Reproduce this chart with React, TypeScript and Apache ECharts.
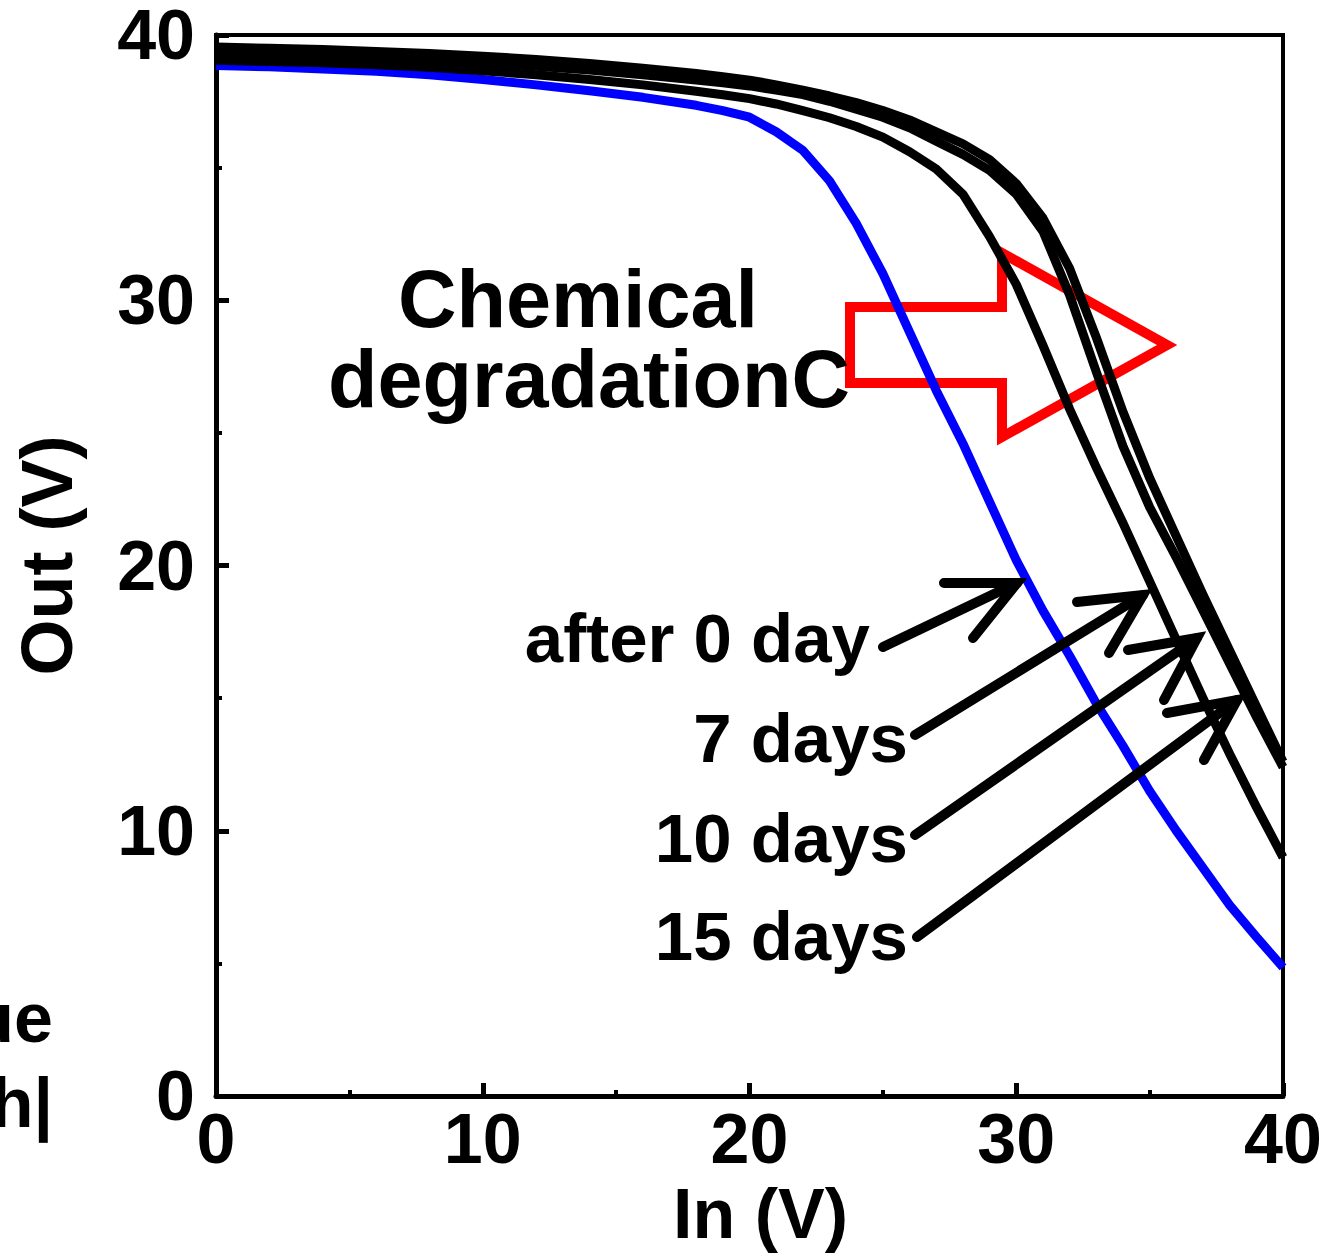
import React, { useEffect, useRef } from "react";
import * as echarts from "echarts";

// ---- data ----
const xIn = [0, 2, 4, 6, 8, 10, 12, 14, 16, 18, 19, 20, 21, 22, 23, 24, 25, 26, 27, 28, 29, 30, 31, 32, 33, 34, 35, 36, 37, 38, 39, 40];

const outBlue = [38.85, 38.8, 38.72, 38.63, 38.5, 38.32, 38.12, 37.9, 37.65, 37.35, 37.15, 36.9, 36.35, 35.65, 34.5, 32.9, 31.0, 28.8, 26.6, 24.6, 22.4, 20.2, 18.3, 16.6, 14.8, 13.2, 11.5, 10.0, 8.6, 7.2, 6.0, 4.85];

const outBlackA = [39.05, 39.0, 38.95, 38.88, 38.78, 38.65, 38.5, 38.32, 38.12, 37.88, 37.75, 37.6, 37.4, 37.15, 36.88, 36.55, 36.15, 35.6, 34.95, 34.0, 32.4, 30.6, 28.3, 25.9, 23.7, 21.6, 19.4, 17.2, 15.0, 12.9, 10.9, 9.0];

const outBlackC = [39.3, 39.25, 39.2, 39.13, 39.05, 38.95, 38.82, 38.68, 38.5, 38.3, 38.2, 38.08, 37.92, 37.75, 37.5, 37.2, 36.9, 36.5, 36.0, 35.5, 34.9, 34.0, 32.6, 30.2, 27.3, 24.5, 22.2, 20.3, 18.3, 16.3, 14.3, 12.4];

const outBlackD = [39.55, 39.5, 39.45, 39.38, 39.3, 39.2, 39.08, 38.93, 38.75, 38.55, 38.43, 38.3, 38.12, 37.92, 37.7, 37.45, 37.15, 36.8, 36.35, 35.9, 35.3, 34.4, 33.1, 31.2, 28.6, 25.8, 23.3, 21.1, 18.9, 16.8, 14.7, 12.6];

const xTicks = { min: 0, max: 40, interval: 10 };
const yTicks = { min: 0, max: 40, interval: 10 };

const labels = ["after 0 day", "7 days", "10 days", "15 days"];
const titleLines = ["Chemical", "degradationC"];
const clippedLeft = ["Value", "|Vth|"];

const FONT = "'Liberation Sans', Arial, Helvetica, sans-serif";

function pairs(xs: number[], ys: number[]) {
  return xs.map((x, i) => [x, ys[i]]);
}

export default function App() {
  const ref = useRef<HTMLDivElement>(null);

  useEffect(() => {
    if (!ref.current) return;
    const chart = echarts.init(ref.current, null, { renderer: "svg", width: 1330, height: 1254 });

    const lineSeries = (name: string, ys: number[], color: string) => ({
      name,
      type: "line",
      data: pairs(xIn, ys),
      showSymbol: false,
      symbol: "none",
      smooth: false,
      clip: false,
      lineStyle: { color, width: 9, join: "round" },
      z: 3,
    });

    const arrowStyle = { stroke: "#000", lineWidth: 10, lineCap: "round", lineJoin: "miter", fill: null };
    const arrows = [
      { tail: [883, 647], tip: [1017, 583], b1: [944, 583], b2: [973, 638] },
      { tail: [915, 735], tip: [1143, 595], b1: [1077, 602], b2: [1109, 653] },
      { tail: [915, 835], tip: [1197, 638], b1: [1128, 650], b2: [1164, 700] },
      { tail: [917, 937], tip: [1237, 700], b1: [1167, 713], b2: [1204, 760] },
    ];
    const arrowGraphics: any[] = [];
    arrows.forEach((a) => {
      arrowGraphics.push({ type: "polyline", z: 100, shape: { points: [a.tail, a.tip] }, style: { ...arrowStyle } });
      arrowGraphics.push({ type: "polyline", z: 100, shape: { points: [a.b1, a.tip, a.b2] }, style: { ...arrowStyle } });
    });

    const labelY = [638, 738, 838, 936];
    const labelRight = [870, 908, 908, 908];
    const labelGraphics = labels.map((t, i) => ({
      type: "text",
      z: 100,
      x: labelRight[i],
      y: labelY[i],
      style: { text: t, fontSize: 69, fontWeight: "bold", fontFamily: FONT, fill: "#000", align: "right", verticalAlign: "middle" },
    }));

    const titleGraphics = [
      { type: "text", z: 50, x: 578, y: 299, style: { text: titleLines[0], fontSize: 81, fontWeight: "bold", fontFamily: FONT, fill: "#000", align: "center", verticalAlign: "middle" } },
      { type: "text", z: 50, x: 589, y: 379, style: { text: titleLines[1], fontSize: 81, fontWeight: "bold", fontFamily: FONT, fill: "#000", align: "center", verticalAlign: "middle" } },
    ];

    const leftGraphics = [
      { type: "text", z: 50, x: 53, y: 1018, style: { text: clippedLeft[0], fontSize: 70, fontWeight: "bold", fontFamily: FONT, fill: "#000", align: "right", verticalAlign: "middle" } },
      { type: "text", z: 50, x: 53, y: 1103, style: { text: clippedLeft[1], fontSize: 70, fontWeight: "bold", fontFamily: FONT, fill: "#000", align: "right", verticalAlign: "middle" } },
    ];

    const redArrow = {
      type: "polygon",
      z: 1,
      shape: { points: [[850, 307], [1002, 307], [1002, 253], [1167, 345], [1002, 437], [1002, 383], [850, 383]] },
      style: { fill: "none", stroke: "#ff0000", lineWidth: 10, lineJoin: "miter" },
    };

    const axisCommon = {
      type: "value",
      axisLine: { show: true, onZero: false, lineStyle: { color: "#000", width: 5 } },
      axisTick: { show: true, inside: true, length: 13, lineStyle: { color: "#000", width: 5 } },
      minorTick: { show: true, splitNumber: 2, length: 6, lineStyle: { color: "#000", width: 4 } },
      splitLine: { show: false },
      minorSplitLine: { show: false },
    };

    chart.setOption({
      animation: false,
      backgroundColor: "#ffffff",
      grid: { left: 216, top: 34, width: 1067, height: 1066, show: true, borderColor: "#000", borderWidth: 4, backgroundColor: "transparent", containLabel: false },
      xAxis: {
        ...axisCommon,
        ...xTicks,
        axisLabel: { fontSize: 70, fontWeight: "bold", fontFamily: FONT, color: "#000", margin: 8 },
        name: "In (V)",
        nameLocation: "middle",
        nameGap: 83,
        nameTextStyle: { fontSize: 70, fontWeight: "bold", fontFamily: FONT, color: "#000", padding: [0, 0, 0, 22] },
      },
      yAxis: {
        ...axisCommon,
        ...yTicks,
        axisLabel: { fontSize: 70, fontWeight: "bold", fontFamily: FONT, color: "#000", margin: 21 },
        name: "Out (V)",
        nameLocation: "middle",
        nameGap: 133,
        nameTextStyle: { fontSize: 72, fontWeight: "bold", fontFamily: FONT, color: "#000", padding: [0, 0, 0, 20] },
      },
      series: [
        lineSeries("after 0 day", outBlue, "#0000ff"),
        lineSeries("7 days", outBlackC, "#000000"),
        lineSeries("10 days", outBlackD, "#000000"),
        lineSeries("15 days", outBlackA, "#000000"),
      ],
      graphic: [redArrow, ...titleGraphics, ...arrowGraphics, ...labelGraphics, ...leftGraphics],
    });

    return () => chart.dispose();
  }, []);

  return (
    <div
      ref={ref}
      style={{ position: "absolute", left: 0, top: 0, width: 1330, height: 1254, background: "#fff", overflow: "hidden" }}
    />
  );
}
